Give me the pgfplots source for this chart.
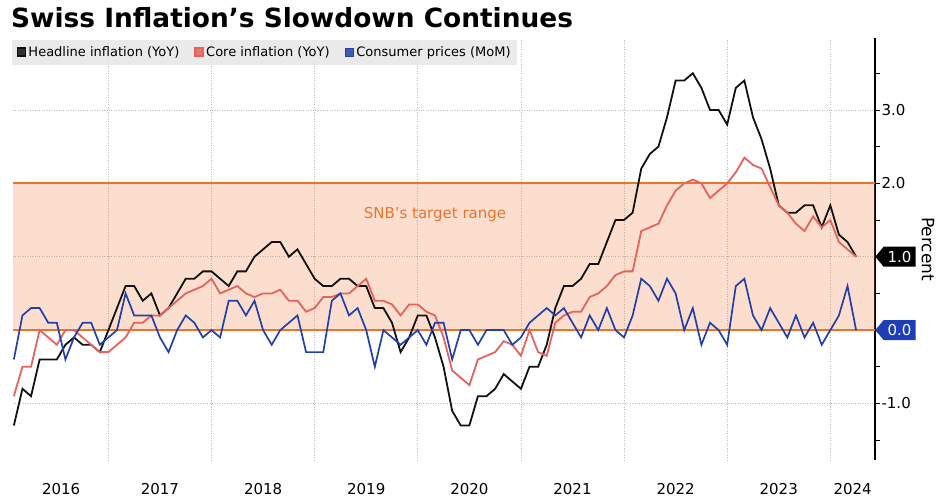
\documentclass[border=0pt]{standalone}
\usepackage{fontspec}
\setmainfont{DejaVu Sans}
\usepackage{pgfplots}
\usepackage{pgfplotstable}
\pgfplotsset{compat=1.18}
\usetikzlibrary{shapes.symbols}

\definecolor{headc}{HTML}{111111}
\definecolor{corec}{HTML}{E5635E}
\definecolor{momc}{HTML}{2240A8}
\definecolor{bandc}{HTML}{F07D3A}
\definecolor{linec}{HTML}{EA7330}
\definecolor{gridc}{HTML}{BDBDBD}
\definecolor{legc}{HTML}{E6E6E6}
\definecolor{tagblue}{HTML}{1E3EB8}

\pgfplotstableread{
k head core mom
0 -1.3 -0.9 -0.4
1 -0.8 -0.5 0.2
2 -0.9 -0.5 0.3
3 -0.4 0.0 0.3
4 -0.4 -0.1 0.1
5 -0.4 -0.2 0.1
6 -0.2 0.0 -0.4
7 -0.1 0.0 -0.1
8 -0.2 -0.1 0.1
9 -0.2 -0.2 0.1
10 -0.3 -0.3 -0.2
11 0.0 -0.3 -0.1
12 0.3 -0.2 0.0
13 0.6 -0.1 0.5
14 0.6 0.1 0.2
15 0.4 0.1 0.2
16 0.5 0.2 0.2
17 0.2 0.2 -0.1
18 0.3 0.3 -0.3
19 0.5 0.4 0.0
20 0.7 0.5 0.2
21 0.7 0.55 0.1
22 0.8 0.6 -0.1
23 0.8 0.7 0.0
24 0.7 0.5 -0.1
25 0.6 0.55 0.4
26 0.8 0.6 0.4
27 0.8 0.5 0.2
28 1.0 0.45 0.4
29 1.1 0.5 0.0
30 1.2 0.5 -0.2
31 1.2 0.55 0.0
32 1.0 0.4 0.1
33 1.1 0.4 0.2
34 0.9 0.25 -0.3
35 0.7 0.3 -0.3
36 0.6 0.45 -0.3
37 0.6 0.45 0.4
38 0.7 0.5 0.5
39 0.7 0.5 0.2
40 0.6 0.6 0.3
41 0.6 0.7 0.0
42 0.3 0.4 -0.5
43 0.3 0.4 0.0
44 0.1 0.35 -0.1
45 -0.3 0.2 -0.2
46 -0.1 0.35 -0.1
47 0.2 0.35 0.0
48 0.2 0.25 -0.2
49 -0.1 0.2 0.1
50 -0.5 -0.1 0.1
51 -1.1 -0.55 -0.4
52 -1.3 -0.65 0.0
53 -1.3 -0.75 0.0
54 -0.9 -0.4 -0.2
55 -0.9 -0.35 0.0
56 -0.8 -0.3 0.0
57 -0.6 -0.15 0.0
58 -0.7 -0.2 -0.2
59 -0.8 -0.35 -0.1
60 -0.5 0.0 0.1
61 -0.5 -0.3 0.2
62 -0.2 -0.35 0.3
63 0.3 0.1 0.2
64 0.6 0.2 0.3
65 0.6 0.25 0.1
66 0.7 0.25 -0.1
67 0.9 0.45 0.2
68 0.9 0.5 0.0
69 1.2 0.6 0.3
70 1.5 0.75 0.0
71 1.5 0.8 -0.1
72 1.6 0.8 0.2
73 2.2 1.35 0.7
74 2.4 1.4 0.6
75 2.5 1.45 0.4
76 2.9 1.7 0.7
77 3.4 1.9 0.5
78 3.4 2.0 0.0
79 3.5 2.05 0.3
80 3.3 2.0 -0.2
81 3.0 1.8 0.1
82 3.0 1.9 0.0
83 2.8 2.0 -0.2
84 3.3 2.15 0.6
85 3.4 2.35 0.7
86 2.9 2.25 0.2
87 2.6 2.2 0.0
88 2.2 1.95 0.3
89 1.7 1.7 0.1
90 1.6 1.6 -0.1
91 1.6 1.45 0.2
92 1.7 1.35 -0.1
93 1.7 1.55 0.1
94 1.4 1.4 -0.2
95 1.7 1.5 0.0
96 1.3 1.2 0.2
97 1.2 1.1 0.6
98 1.0 1.0 0.0
}\infl

\begin{document}
\begin{tikzpicture}[x=1pt,y=1pt]
\path[use as bounding box] (0,0) rectangle (944,499);
\node[anchor=base west, inner sep=0pt, font=\fontsize{26.4}{30}\selectfont\bfseries] at (11,471) {Swiss Inflation’s Slowdown Continues};
\begin{axis}[
  at={(13pt,39pt)}, anchor=south west,
  scale only axis, width=862pt, height=422pt,
  xmin=-0.1, xmax=100.2, ymin=-1.77, ymax=3.98,
  clip=false,
  axis y line*=right, axis x line*=bottom,
  x axis line style={draw=none},
  y axis line style={line width=1.3pt, black},
  xtick={5.5,17,29,41,53,65,77,89,97.6},
  xticklabels={2016,2017,2018,2019,2020,2021,2022,2023,2024},
  minor xtick={11,23,35,47,59,71,83,95},
  xtick style={draw=none},
  xminorgrids=true,
  minor x grid style={gridc, dotted, line width=0.7pt},
  ytick={-1,0,1,2,3},
  yticklabels={-1.0,{},{},2.0,3.0},
  minor ytick={-1.5,-0.5,0.5,1.5,2.5,3.5},
  ymajorgrids=true,
  major y grid style={gridc, dotted, line width=0.7pt},
  tick align=outside,
  major tick length=5pt, minor tick length=5pt,
  ytick style={black, line width=0.8pt},
  ticklabel style={font=\fontsize{15}{18}\selectfont},
  xticklabel style={yshift=-15pt},
  yticklabel style={xshift=-2pt},
  legend style={at={(rel axis cs:0,1)}, anchor=north west, xshift=-1pt, yshift=-2pt,
    fill=legc, fill opacity=0.85, text opacity=1, draw=none,
    font=\fontsize{13}{15}\selectfont, inner sep=4.5pt,
    /tikz/every even column/.append style={column sep=13pt}},
  legend columns=3,
  legend cell align=left,
  legend image code/.code={\fill[#1] (0pt,-4pt) rectangle (8pt,4pt);},
]
\addplot[draw=none, fill=bandc, fill opacity=0.25, forget plot] coordinates {(-0.1,0) (100.2,0) (100.2,2) (-0.1,2)} -- cycle;
\addplot[linec, line width=2pt, forget plot] coordinates {(-0.1,0) (100.2,0)};
\addplot[linec, line width=2pt, forget plot] coordinates {(-0.1,2) (100.2,2)};
\addplot[headc, line width=1.8pt] table[x=k, y=head] {\infl};
\addplot[corec, line width=1.8pt] table[x=k, y=core] {\infl};
\addplot[momc, line width=1.7pt] table[x=k, y=mom] {\infl};
\legend{Headline inflation (YoY), Core inflation (YoY), Consumer prices (MoM)}
\node[text=linec, font=\fontsize{15}{18}\selectfont] at (axis cs:49,1.58) {SNB’s target range};
\node[signal, signal to=west, signal pointer angle=100, fill=black, text=white, anchor=west, inner sep=2.5pt, inner xsep=4pt, minimum height=20pt, font=\fontsize{15}{18}\selectfont] at (axis cs:100.2,1) {1.0};
\node[signal, signal to=west, signal pointer angle=100, fill=tagblue, text=white, anchor=west, inner sep=2.5pt, inner xsep=4pt, minimum height=20pt, font=\fontsize{15}{18}\selectfont] at (axis cs:100.2,0) {0.0};
\node[rotate=-90, font=\fontsize{17}{20}\selectfont] at ([xshift=53pt]rel axis cs:1,0.5) {Percent};
\end{axis}
\end{tikzpicture}
\end{document}
